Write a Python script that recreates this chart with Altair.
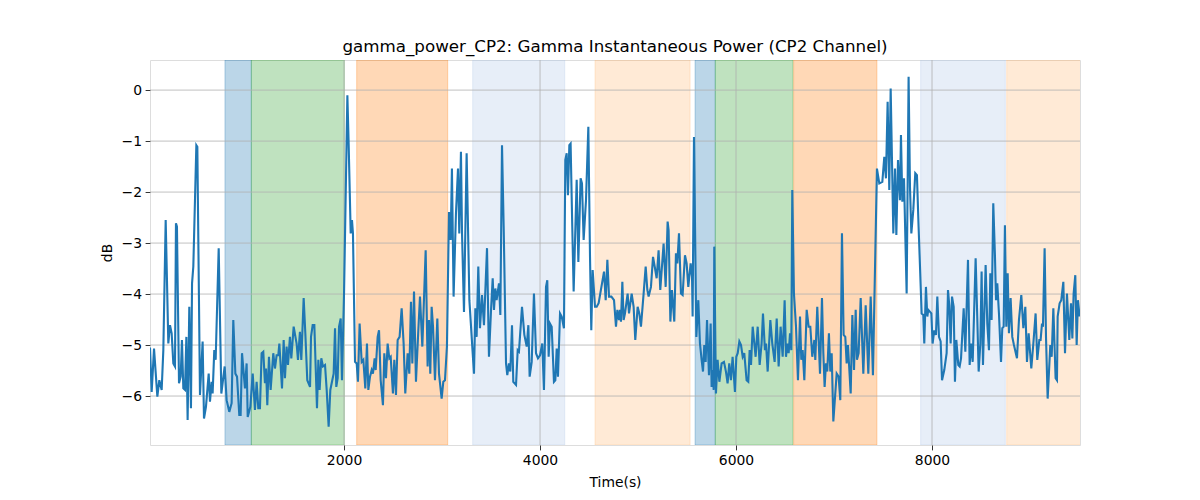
import altair as alt
import pandas as pd

# ---- data (time in s, power in dB) ----
seg1 = [(20,-5.05),(37,-5.92),(61,-5.07),(95,-6.01),(115,-5.69),(139,-5.88),(156,-5.10),(180,-2.55),(207,-4.97),(224,-4.61),(241,-4.77),(258,-5.36),(275,-5.42),(285,-2.61),(295,-2.68),(316,-5.75),(333,-5.62),(346,-4.90),(360,-5.85),(377,-5.88),(391,-4.84),(404,-6.47),(421,-4.25),(438,-6.24),(449,-3.79),(462,-3.46),(493,-1.08),(503,-1.11),(530,-5.98),(557,-4.93),(571,-6.44),(591,-6.21),(619,-5.56),(632,-6.11),(649,-5.72),(659,-5.95),(676,-5.10),(690,-5.29),(721,-3.10),(748,-5.95),(782,-5.42),(802,-6.08),(829,-6.31),(853,-6.14),(870,-4.51),(891,-5.56),(908,-5.62),(931,-6.37),(945,-6.37),(959,-5.16),(989,-5.85),(1006,-5.36),(1017,-6.41),(1044,-6.21),(1068,-5.56),(1091,-6.27),(1108,-5.72),(1125,-6.24),(1142,-6.24),(1159,-5.16),(1176,-5.13),(1193,-5.75),(1204,-5.46),(1217,-6.18),(1234,-5.23),(1251,-5.88),(1278,-5.16),(1295,-5.46),(1312,-5.20),(1329,-5.20),(1340,-4.97),(1367,-5.85),(1384,-4.90),(1397,-5.65),(1414,-5.03),(1428,-5.39),(1448,-4.84),(1462,-5.26),(1486,-4.64),(1516,-4.97),(1530,-5.29),(1550,-4.74),(1564,-5.29),(1588,-4.08),(1605,-4.77),(1625,-5.69),(1653,-5.82)]

seg2 = [(1663,-4.84),(1680,-4.61),(1697,-4.61),(1724,-6.24),(1738,-5.29),(1751,-5.88),(1768,-5.26),(1785,-5.42),(1806,-5.39),(1823,-5.88),(1843,-6.60),(1860,-5.88),(1880,-5.69),(1894,-5.56),(1908,-4.67),(1921,-5.82),(1935,-5.65),(1949,-4.64),(1966,-4.48),(1979,-5.69),(2000,-3.99),(2034,-0.10),(2047,-1.05),(2068,-2.81),(2081,-2.55),(2091,-2.81),(2112,-5.33),(2129,-5.36),(2142,-5.72),(2159,-4.58),(2180,-5.33),(2197,-5.29),(2217,-5.85),(2234,-4.97),(2248,-5.88),(2265,-5.62),(2282,-5.49),(2295,-5.56),(2312,-5.26),(2323,-5.49),(2343,-4.84),(2357,-4.71),(2374,-5.69),(2397,-6.18),(2411,-5.16),(2428,-5.65),(2445,-4.97),(2462,-5.26),(2476,-5.23),(2499,-5.95),(2513,-5.29),(2530,-5.98),(2547,-4.90),(2567,-4.84),(2588,-4.28),(2608,-4.97),(2625,-5.95),(2649,-5.16),(2666,-5.56),(2683,-4.15),(2697,-5.36),(2714,-3.95),(2734,-5.72),(2758,-4.71),(2775,-4.05),(2799,-5.03),(2833,-3.14),(2853,-5.42),(2867,-4.51),(2880,-5.56),(2894,-4.25),(2908,-4.64),(2928,-5.69),(2952,-4.48),(2969,-5.56),(2996,-6.05),(3013,-5.72),(3030,-5.69),(3050,-5.03),(3071,-2.39),(3088,-2.94),(3101,-1.54),(3118,-4.05),(3142,-2.42),(3163,-1.54),(3176,-2.81),(3193,-1.21)]

seg3 = [(3204,-2.81),(3224,-4.35),(3251,-1.24),(3279,-4.12),(3326,-5.56),(3340,-4.28),(3353,-4.84),(3370,-3.46),(3387,-4.67),(3408,-4.02),(3428,-4.61),(3459,-3.10),(3479,-5.23),(3500,-4.31),(3517,-3.69),(3530,-4.31),(3544,-3.89),(3557,-4.12),(3581,-3.79),(3595,-4.41),(3612,-1.08),(3629,-2.68),(3653,-5.36),(3666,-5.59),(3683,-5.36),(3697,-5.52),(3714,-4.61),(3727,-5.72),(3755,-5.78),(3772,-5.10),(3785,-5.13),(3816,-4.25),(3840,-4.80),(3864,-5.03),(3881,-4.61),(3894,-5.62),(3915,-5.33),(3938,-3.99),(3959,-5.16),(3979,-5.26),(4000,-5.20),(4023,-4.97),(4040,-5.88),(4061,-3.86),(4074,-3.73),(4088,-5.23),(4102,-4.58),(4119,-4.64),(4142,-5.72),(4156,-5.69),(4170,-5.07),(4183,-5.62),(4204,-4.38),(4221,-4.44),(4244,-4.67),(4258,-1.37),(4272,-1.24),(4285,-2.06),(4299,-1.08),(4312,-1.05),(4329,-2.68),(4343,-3.95),(4374,-1.76),(4391,-3.37),(4414,-1.73),(4428,-1.83),(4445,-2.94),(4469,-2.16),(4493,-0.72),(4510,-3.27),(4523,-4.71),(4537,-3.53),(4561,-4.25),(4578,-4.25),(4598,-4.18),(4653,-3.56),(4670,-4.12),(4687,-3.33),(4704,-4.05),(4728,-4.05),(4755,-4.12),(4775,-4.64),(4789,-4.31)]

seg4 = [(4806,-4.51),(4816,-4.31),(4826,-4.54),(4840,-3.76),(4853,-4.51),(4867,-4.38),(4894,-3.99),(4908,-4.38),(4935,-3.99),(4955,-4.25),(4972,-4.90),(4996,-4.25),(5013,-4.38),(5030,-4.64),(5057,-3.99),(5078,-3.46),(5095,-3.92),(5108,-4.05),(5132,-3.86),(5153,-3.27),(5170,-3.46),(5190,-3.69),(5210,-3.14),(5227,-3.92),(5261,-3.01),(5282,-3.86),(5302,-2.58),(5312,-2.75),(5330,-4.54),(5346,-3.92),(5370,-4.54),(5387,-3.20),(5401,-3.40),(5418,-2.81),(5438,-3.99),(5455,-4.02),(5479,-3.24),(5496,-3.40),(5513,-3.86),(5537,-3.40),(5551,-3.66),(5557,-4.44),(5571,-0.92),(5595,-4.84),(5615,-4.12),(5632,-4.97),(5649,-5.29),(5663,-5.52),(5676,-5.00),(5690,-5.33),(5704,-4.51),(5724,-5.59),(5741,-4.58),(5751,-5.82),(5761,-5.49),(5772,-5.88),(5778,-3.07),(5795,-5.95),(5812,-5.29),(5830,-5.72),(5853,-5.36),(5877,-5.33),(5897,-5.52),(5914,-5.75),(5931,-5.36),(5948,-5.69),(5965,-5.23),(5989,-5.92),(6003,-5.23),(6017,-5.16),(6034,-4.93),(6051,-5.00),(6068,-5.23),(6084,-5.16),(6108,-5.69),(6125,-5.72),(6139,-5.10),(6153,-5.39),(6170,-4.64),(6187,-4.97),(6200,-5.23),(6221,-4.64),(6241,-5.39),(6261,-4.97),(6275,-4.38),(6295,-5.10),(6306,-4.97),(6323,-5.52),(6350,-4.51),(6370,-4.97),(6394,-5.33)]

seg5 = [(6415,-4.48),(6435,-5.42),(6455,-4.64),(6476,-5.23),(6496,-4.12),(6510,-5.23),(6523,-4.97),(6537,-5.16),(6551,-4.77),(6564,-5.10),(6574,-1.96),(6591,-3.99),(6612,-4.64),(6632,-5.69),(6653,-4.44),(6666,-5.29),(6680,-5.10),(6697,-5.69),(6721,-4.31),(6741,-4.64),(6758,-4.64),(6778,-5.23),(6799,-4.90),(6809,-5.29),(6829,-4.25),(6857,-5.56),(6877,-4.08),(6891,-5.16),(6904,-5.82),(6918,-5.36),(6931,-5.52),(6948,-4.77),(6962,-5.52),(6976,-5.16),(6993,-6.50),(7027,-5.56),(7047,-5.62),(7064,-6.08),(7081,-2.81),(7098,-4.80),(7115,-4.84),(7129,-5.36),(7142,-5.00),(7170,-5.95),(7187,-4.41),(7204,-5.49),(7221,-4.31),(7234,-5.29),(7251,-5.16),(7272,-4.08),(7299,-5.56),(7323,-4.22),(7350,-5.56),(7374,-4.05),(7397,-5.59),(7438,-1.54),(7462,-1.83),(7493,-1.80),(7513,-1.31),(7530,-1.73),(7547,-0.23),(7564,-1.96),(7578,0.03),(7605,-2.81),(7622,-1.54),(7636,-2.84),(7653,-1.37),(7673,-2.16),(7683,-0.88),(7697,-2.19),(7714,-1.73),(7741,-3.99),(7761,0.26),(7775,-1.90),(7789,-2.81),(7809,-2.35),(7829,-1.63),(7846,-1.67),(7863,-2.68),(7894,-4.38),(7911,-4.41),(7921,-4.97),(7938,-3.86),(7952,-4.44),(7962,-4.31)]

seg6 = [(7993,-4.38),(8006,-4.97),(8023,-4.71),(8040,-4.80),(8054,-4.05),(8071,-4.84),(8088,-4.93),(8102,-5.69),(8125,-5.49),(8149,-5.16),(8163,-3.92),(8176,-4.22),(8190,-4.97),(8204,-4.05),(8221,-4.25),(8234,-5.72),(8248,-4.90),(8268,-5.39),(8282,-5.42),(8296,-5.26),(8323,-4.28),(8340,-5.13),(8367,-3.33),(8384,-5.39),(8398,-4.97),(8415,-5.33),(8445,-3.30),(8462,-4.48),(8476,-5.52),(8493,-4.97),(8506,-3.56),(8520,-5.39),(8547,-3.43),(8564,-4.58),(8581,-5.10),(8595,-3.59),(8608,-4.51),(8625,-2.22),(8642,-3.24),(8653,-4.12),(8666,-3.79),(8683,-4.38),(8704,-5.33),(8717,-4.67),(8731,-4.64),(8744,-2.65),(8758,-4.64),(8772,-3.59),(8785,-4.77),(8802,-4.08),(8819,-4.84),(8836,-5.00),(8867,-5.26),(8887,-4.51),(8911,-4.02),(8932,-4.67),(8952,-4.25),(8969,-5.33),(8986,-4.77),(9013,-5.46),(9034,-4.97),(9057,-4.38),(9074,-5.29),(9095,-4.90),(9108,-4.90),(9122,-4.58),(9132,-4.64),(9149,-3.10),(9163,-4.84),(9180,-6.05),(9207,-5.00),(9221,-5.23),(9238,-4.28),(9261,-5.65),(9275,-5.69),(9282,-4.44),(9302,-4.18),(9319,-4.12),(9340,-3.76),(9357,-5.16),(9377,-3.99),(9401,-4.90),(9418,-4.18),(9432,-4.87),(9445,-3.99),(9462,-3.63),(9476,-5.00),(9489,-4.12),(9506,-4.44)]

# shaded intervals
span_start = [785, 1054, 2129, 3313, 4561, 5582, 5788, 6588, 7884, 8762]
span_end = [1054, 2003, 3058, 4252, 5531, 5788, 6581, 7438, 8748, 9530]
span_color = ["#1f77b4", "#2ca02c", "#ff7f0e", "#aec7e8", "#ffbb78",
              "#1f77b4", "#2ca02c", "#ff7f0e", "#aec7e8", "#ffbb78"]

x_ticks = [2000, 4000, 6000, 8000]
y_ticks = [0, -1, -2, -3, -4, -5, -6]
x_domain = [20, 9510]
y_domain = [-6.96, 0.59]

samples = seg1 + seg2 + seg3 + seg4 + seg5 + seg6
df = pd.DataFrame(samples, columns=["time", "db"])
spans = pd.DataFrame({"start": span_start, "end": span_end, "color": span_color})
xg = pd.DataFrame({"t": x_ticks})
yg = pd.DataFrame({"v": y_ticks})

FONT = "DejaVu Sans"
xs = alt.Scale(domain=x_domain, nice=False, zero=False)
ys = alt.Scale(domain=y_domain, nice=False, zero=False)

x_axis = alt.Axis(values=x_ticks, format="d", title="Time(s)", grid=False, domain=False,
                  tickSize=4.9, tickWidth=0.8, tickColor="black", labelPadding=3.5,
                  labelFontSize=13.9, labelFont=FONT, labelColor="black",
                  titleFontSize=13.9, titleFont=FONT, titleFontWeight="normal",
                  titleColor="black", titlePadding=8)
y_axis = alt.Axis(values=y_ticks, format="d", title="dB", grid=False, domain=False,
                  tickSize=4.9, tickWidth=0.8, tickColor="black", labelPadding=3.5,
                  labelFontSize=13.9, labelFont=FONT, labelColor="black",
                  labelExpr="replace(datum.label, '-', '\u2212')",
                  titleFontSize=13.9, titleFont=FONT, titleFontWeight="normal",
                  titleColor="black", titlePadding=7)

rects = alt.Chart(spans).mark_rect(fillOpacity=0.3, strokeOpacity=0.3, strokeWidth=1, clip=True).encode(
    x=alt.X("start:Q", scale=xs, axis=x_axis),
    x2="end:Q",
    fill=alt.Fill("color:N", scale=None),
    stroke=alt.Stroke("color:N", scale=None),
)

vgrid = alt.Chart(xg).mark_rule(color="#b0b0b0", strokeWidth=0.8).encode(
    x=alt.X("t:Q", scale=xs, axis=x_axis))
hgrid = alt.Chart(yg).mark_rule(color="#b0b0b0", strokeWidth=0.8).encode(
    y=alt.Y("v:Q", scale=ys, axis=y_axis))

line = alt.Chart(df).mark_line(color="#1f77b4", strokeWidth=2.1, clip=True).encode(
    x=alt.X("time:Q", scale=xs, axis=x_axis),
    y=alt.Y("db:Q", scale=ys, axis=y_axis),
)

chart = alt.layer(rects, vgrid, hgrid, line).properties(
    width=930, height=385,
    padding={"left": 142, "top": 52, "right": 100, "bottom": 50},
    autosize=alt.AutoSizeParams(type="none"),
    title=alt.TitleParams("gamma_power_CP2: Gamma Instantaneous Power (CP2 Channel)",
                          font=FONT, fontSize=16.7, fontWeight="normal", color="black",
                          anchor="middle", offset=4),
).configure_view(stroke="black", strokeWidth=1.1).configure(background="white")

chart.save("out.html", embed_options={"renderer": "svg", "actions": False})
